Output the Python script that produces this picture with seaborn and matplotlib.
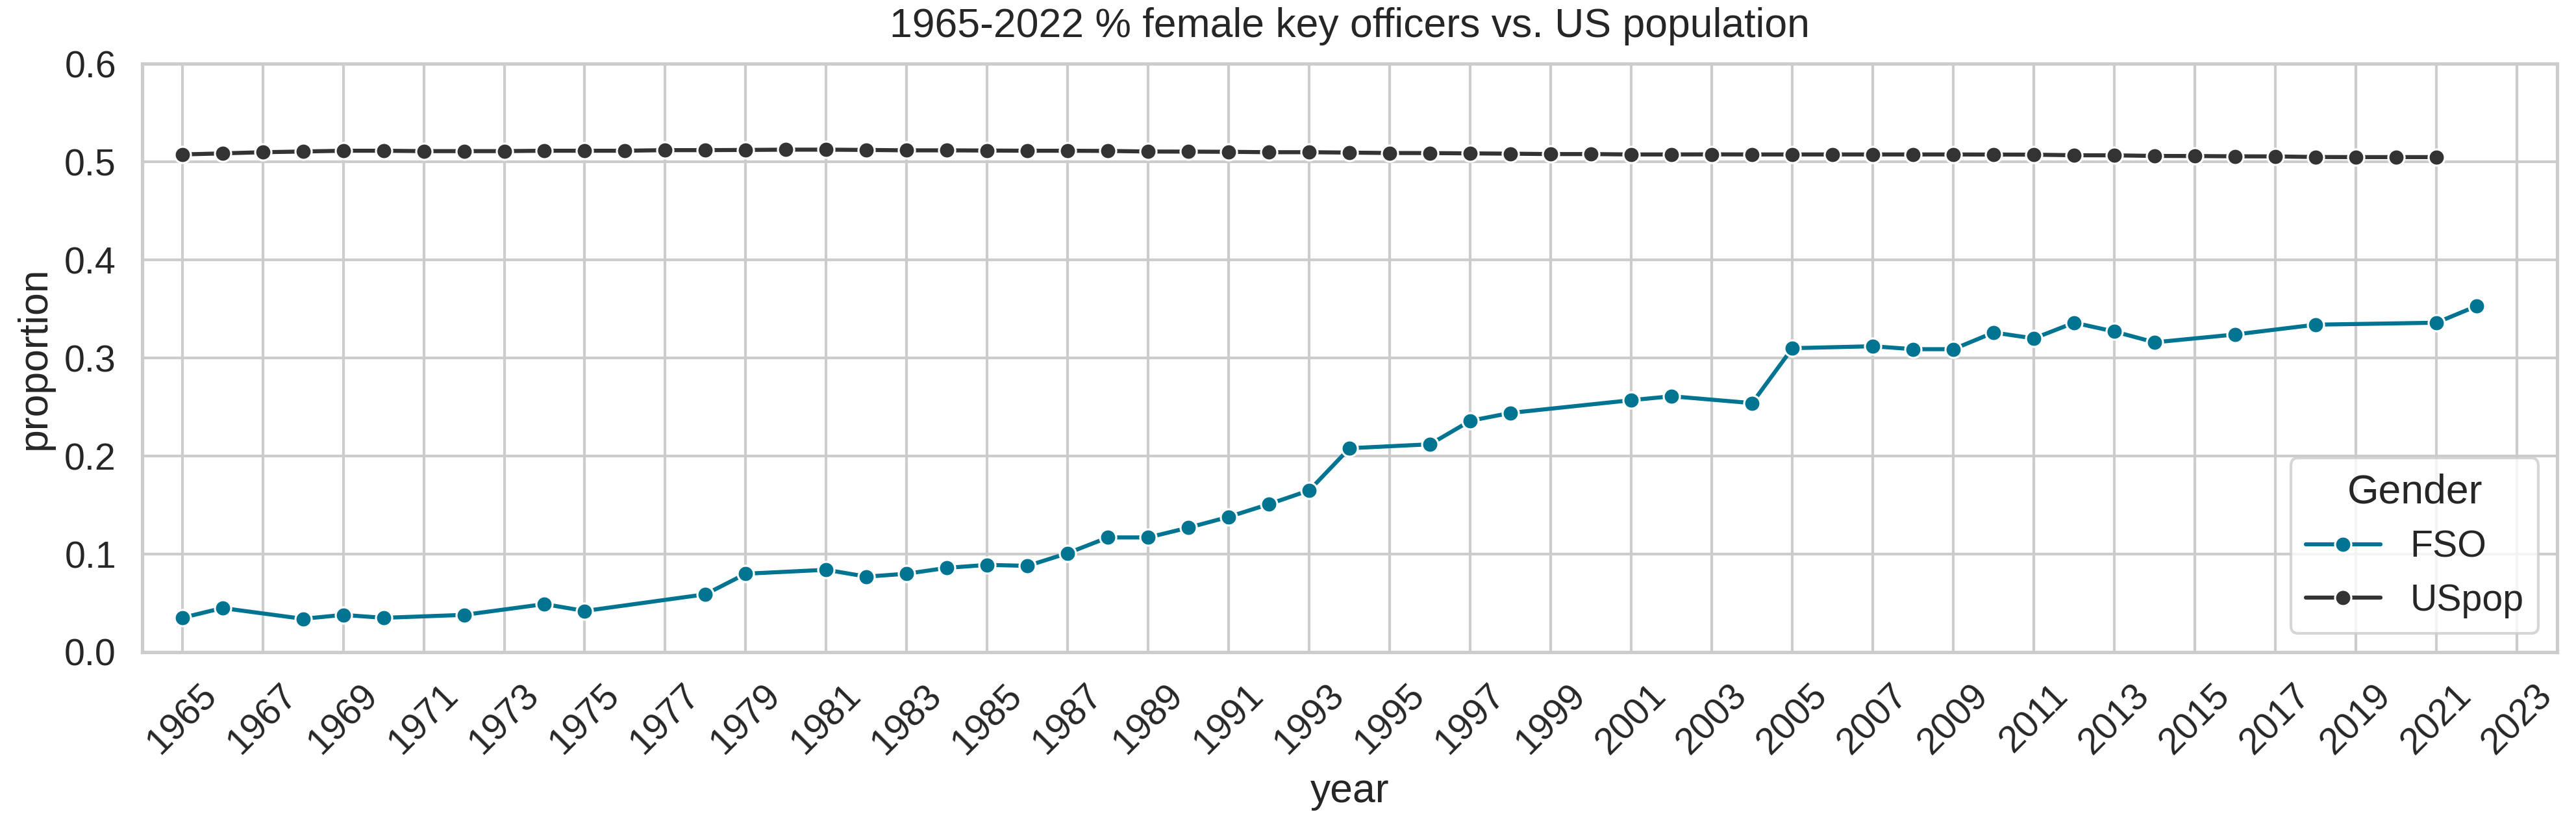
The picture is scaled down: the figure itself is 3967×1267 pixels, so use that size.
import numpy as np
import pandas as pd
import matplotlib
matplotlib.use("Agg")
import matplotlib.pyplot as plt
import seaborn as sns

fso_years = [1965, 1966, 1968, 1969, 1970, 1972, 1974, 1975, 1978, 1979, 1981, 1982,
             1983, 1984, 1985, 1986, 1987, 1988, 1989, 1990, 1991, 1992, 1993, 1994,
             1996, 1997, 1998, 2001, 2002, 2004, 2005, 2007, 2008, 2009, 2010, 2011,
             2012, 2013, 2014, 2016, 2018, 2021, 2022]
fso_values = [0.035, 0.045, 0.034, 0.038, 0.035, 0.038, 0.049, 0.042, 0.059, 0.080,
              0.084, 0.077, 0.080, 0.086, 0.089, 0.088, 0.101, 0.117, 0.117, 0.127,
              0.138, 0.151, 0.165, 0.208, 0.212, 0.236, 0.244, 0.257, 0.261, 0.254,
              0.310, 0.312, 0.309, 0.309, 0.326, 0.320, 0.336, 0.327, 0.316, 0.324,
              0.334, 0.336, 0.353]

uspop_years = list(range(1965, 2022))
uspop_values = [0.5076, 0.5087, 0.5099, 0.5106, 0.5114, 0.5114, 0.5110, 0.5110, 0.5110,
                0.5114, 0.5114, 0.5114, 0.5120, 0.5120, 0.5122, 0.5125, 0.5125, 0.5122,
                0.5118, 0.5118, 0.5116, 0.5114, 0.5114, 0.5112, 0.5106, 0.5105, 0.5103,
                0.5099, 0.5099, 0.5095, 0.5091, 0.5090, 0.5087, 0.5084, 0.5080, 0.5080,
                0.5076, 0.5076, 0.5077, 0.5076, 0.5076, 0.5076, 0.5076, 0.5076, 0.5076,
                0.5075, 0.5074, 0.5068, 0.5067, 0.5061, 0.5060, 0.5057, 0.5056, 0.5050,
                0.5049, 0.5049, 0.5049]

xtick_years = list(range(1965, 2024, 2))
ytick_values = [0.0, 0.1, 0.2, 0.3, 0.4, 0.5, 0.6]
series_colors = {"FSO": "#007491", "USpop": "#333333"}

df = pd.concat([
    pd.DataFrame({"year": fso_years, "proportion": fso_values, "Gender": "FSO"}),
    pd.DataFrame({"year": uspop_years, "proportion": uspop_values, "Gender": "USpop"}),
], ignore_index=True)

sns.set_theme(style="whitegrid", font_scale=1.25)
plt.rcParams["font.family"] = ["Liberation Sans", "DejaVu Sans"]

fig, ax = plt.subplots(figsize=(3967 / 300, 1267 / 300), dpi=300)
fig.subplots_adjust(left=0.0551, right=0.9927, top=0.9224, bottom=0.2076)

sns.lineplot(data=df, x="year", y="proportion", hue="Gender", marker="o",
             palette=series_colors, ax=ax)

ax.set_xlim(1964, 2024)
ax.set_ylim(0, 0.6)
ax.set_xticks(xtick_years)
ax.set_yticks(ytick_values)
ax.tick_params(axis="x", labelrotation=45)
ax.set_title("1965-2022 % female key officers vs. US population", pad=10)
ax.set_xlabel("year")
ax.set_ylabel("proportion")
ax.legend(title="Gender", loc="lower right")

fig.savefig("out.png", dpi=300)
